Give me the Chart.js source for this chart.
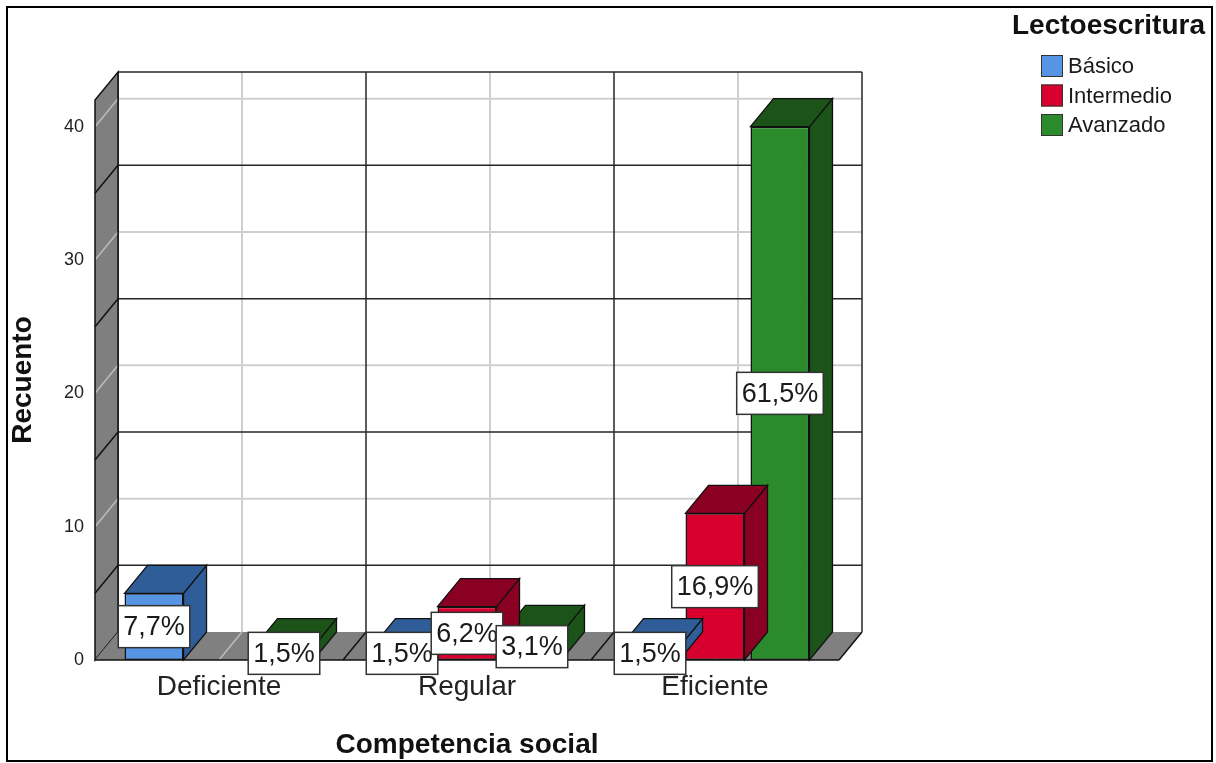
<!DOCTYPE html>
<html><head><meta charset="utf-8">
<script src="https://cdn.jsdelivr.net/npm/chart.js@4.4.1/dist/chart.umd.min.js"></script>
<style>html,body{margin:0;padding:0;background:#fff;} canvas{display:block}</style>
</head><body>
<canvas id="c" width="1216" height="763"></canvas>
<script>
// ---- data ----
const categories = ['Deficiente', 'Regular', 'Eficiente'];
const seriesNames = ['Básico', 'Intermedio', 'Avanzado'];
const basico = [5, 1, 1];
const intermedio = [0, 4, 11];
const avanzado = [1, 2, 40];
const pctBasico = [7.7, 1.5, 1.5];
const pctIntermedio = [0, 6.2, 16.9];
const pctAvanzado = [1.5, 3.1, 61.5];
const yTicks = [0, 10, 20, 30, 40];
const yMax = 42;
const legendTitle = 'Lectoescritura';
const xTitle = 'Competencia social';
const yTitle = 'Recuento';

// ---- style ----
const FONT = '"Liberation Sans", Arial, sans-serif';
const FRONT = ['#5595e3', '#d7002f', '#2b8a2b'];
const DARK = ['#2f5d97', '#8a0022', '#1b5319'];
const DX = 23, DY = -28;
const DARKLINE = '#262626', LIGHTLINE = '#cfcfcf';
const pcts = [pctBasico, pctIntermedio, pctAvanzado];

function poly(ctx, pts, fill, stroke, lw) {
  ctx.beginPath();
  ctx.moveTo(pts[0][0], pts[0][1]);
  for (let i = 1; i < pts.length; i++) ctx.lineTo(pts[i][0], pts[i][1]);
  ctx.closePath();
  if (fill) { ctx.fillStyle = fill; ctx.fill(); }
  if (stroke) { ctx.strokeStyle = stroke; ctx.lineWidth = lw || 1; ctx.lineJoin = 'miter'; ctx.stroke(); }
}
function line(ctx, x1, y1, x2, y2, c, w) {
  ctx.beginPath(); ctx.moveTo(x1, y1); ctx.lineTo(x2, y2);
  ctx.strokeStyle = c; ctx.lineWidth = w; ctx.stroke();
}

const scene = {
  id: 'scene',
  beforeDatasetsDraw(chart) {
    const {ctx, chartArea: a, scales: {x, y}} = chart;
    const L = a.left, R = a.right;
    const B = y.getPixelForValue(0), T = y.getPixelForValue(yMax);
    const n = categories.length, cw = (R - L) / n;
    ctx.save();
    for (let v = 10; v < yMax; v += 10) {
      const py = y.getPixelForValue(v) + DY;
      line(ctx, L + DX, py, R + DX, py, LIGHTLINE, 2);
    }
    for (let i = 0; i < n; i++) {
      const px = x.getPixelForValue(i) + DX;
      line(ctx, px, T + DY, px, B + DY, LIGHTLINE, 2);
    }
    for (let v = 5; v < yMax; v += 10) {
      const py = y.getPixelForValue(v) + DY;
      line(ctx, L + DX, py, R + DX, py, DARKLINE, 1.5);
    }
    for (let i = 0; i <= n; i++) {
      const px = L + i * cw + DX;
      line(ctx, px, T + DY, px, B + DY, DARKLINE, 1.5);
    }
    line(ctx, L + DX, T + DY, R + DX, T + DY, DARKLINE, 1.5);
    // left wall
    poly(ctx, [[L, B], [L, T], [L + DX, T + DY], [L + DX, B + DY]], '#7f7f7f', null);
    for (let v = 0; v < yMax; v += 10) {
      const py = y.getPixelForValue(v);
      line(ctx, L, py, L + DX, py + DY, '#bdbdbd', 1.5);
    }
    for (let v = 5; v < yMax; v += 10) {
      const py = y.getPixelForValue(v);
      line(ctx, L, py, L + DX, py + DY, '#111', 1.5);
    }
    poly(ctx, [[L, B], [L, T], [L + DX, T + DY], [L + DX, B + DY]], null, '#111', 1.5);
    // floor
    poly(ctx, [[L, B], [R, B], [R + DX, B + DY], [L + DX, B + DY]], '#808080', null);
    for (let i = 0; i < n; i++) {
      const px = x.getPixelForValue(i);
      line(ctx, px, B, px + DX, B + DY, '#bdbdbd', 1.5);
    }
    for (let i = 1; i < n; i++) {
      const px = L + i * cw;
      line(ctx, px, B, px + DX, B + DY, '#111', 1.5);
    }
    line(ctx, L, B, R, B, '#111', 1.5);
    line(ctx, R, B, R + DX, B + DY, '#111', 1.5);
    ctx.restore();
  },
  beforeDatasetDraw(chart, args) {
    const {ctx} = chart;
    const meta = chart.getDatasetMeta(args.index);
    const data = chart.data.datasets[args.index].data;
    ctx.save();
    meta.data.forEach((el, i) => {
      if (!data[i]) return;
      const p = el.getProps(['x', 'y', 'base', 'width'], true);
      const x0 = p.x - p.width / 2, x1 = p.x + p.width / 2, yt = p.y, yb = p.base;
      poly(ctx, [[x1, yb], [x1, yt], [x1 + DX, yt + DY], [x1 + DX, yb + DY]], DARK[args.index], '#111', 1.3);
      poly(ctx, [[x0, yt], [x1, yt], [x1 + DX, yt + DY], [x0 + DX, yt + DY]], DARK[args.index], '#111', 1.3);
    });
    ctx.restore();
  },
  afterDatasetsDraw(chart) {
    const {ctx} = chart;
    ctx.save();
    ctx.font = '27px ' + FONT;
    ctx.textAlign = 'center';
    ctx.textBaseline = 'middle';
    chart.data.datasets.forEach((ds, di) => {
      const meta = chart.getDatasetMeta(di);
      meta.data.forEach((el, i) => {
        if (!ds.data[i]) return;
        const p = el.getProps(['x', 'y', 'base'], true);
        const txt = pcts[di][i].toFixed(1).replace('.', ',') + '%';
        const w = ctx.measureText(txt).width + 10, h = 42;
        const cx = p.x, cy = (p.y + p.base) / 2;
        ctx.fillStyle = '#fff';
        ctx.fillRect(cx - w / 2, cy - h / 2, w, h);
        ctx.strokeStyle = '#333'; ctx.lineWidth = 1.5;
        ctx.strokeRect(cx - w / 2, cy - h / 2, w, h);
        ctx.fillStyle = '#1a1a1a';
        ctx.fillText(txt, cx, cy + 1);
      });
    });
    ctx.restore();
  },
  afterDraw(chart) {
    const {ctx} = chart;
    ctx.save();
    ctx.fillStyle = '#111';
    ctx.font = 'bold 28px ' + FONT;
    ctx.textAlign = 'left'; ctx.textBaseline = 'middle';
    ctx.fillText(legendTitle, 1012, 26);
    ctx.font = '22px ' + FONT;
    chart.data.datasets.forEach((ds, i) => {
      const yy = 55 + i * 29.5;
      ctx.fillStyle = ds.backgroundColor;
      ctx.fillRect(1041, yy, 22, 22);
      ctx.strokeStyle = '#333'; ctx.lineWidth = 1;
      ctx.strokeRect(1041.5, yy + 0.5, 21, 21);
      ctx.fillStyle = '#1a1a1a';
      ctx.fillText(ds.label, 1068, yy + 12);
    });
    ctx.strokeStyle = '#000'; ctx.lineWidth = 2;
    ctx.strokeRect(7, 7, 1205, 754);
    ctx.restore();
  }
};

const seriesData = [basico, intermedio, avanzado];
new Chart(document.getElementById('c'), {
  type: 'bar',
  data: {
    labels: categories,
    datasets: seriesNames.map((name, i) => ({
      label: name,
      data: seriesData[i],
      backgroundColor: FRONT[i],
      borderColor: '#111',
      borderWidth: 1.5,
      borderSkipped: false
    }))
  },
  options: {
    responsive: false,
    animation: false,
    devicePixelRatio: 1,
    layout: {padding: {left: 0, top: 100, right: 377, bottom: 0}},
    datasets: {bar: {categoryPercentage: 0.786, barPercentage: 0.908}},
    plugins: {legend: {display: false}, tooltip: {enabled: false}},
    scales: {
      x: {
        grid: {display: false, drawTicks: false},
        border: {display: false},
        ticks: {padding: 10, color: '#222', font: {size: 28, family: FONT}},
        title: {display: true, text: xTitle, color: '#111', font: {size: 28, weight: 'bold', family: FONT}, padding: {top: 0, bottom: 1}},
        afterFit(s) { s.height = 103; }
      },
      y: {
        min: 0, max: yMax,
        grid: {display: false, drawTicks: false},
        border: {display: false},
        ticks: {padding: 11, color: '#222', font: {size: 18, family: FONT}},
        afterBuildTicks(s) { s.ticks = yTicks.map(v => ({value: v})); },
        title: {display: true, text: yTitle, color: '#111', font: {size: 28, weight: 'bold', family: FONT}, padding: {top: 6, bottom: 0}},
        afterFit(s) { s.width = 95; }
      }
    }
  },
  plugins: [scene]
});
</script>
</body></html>
